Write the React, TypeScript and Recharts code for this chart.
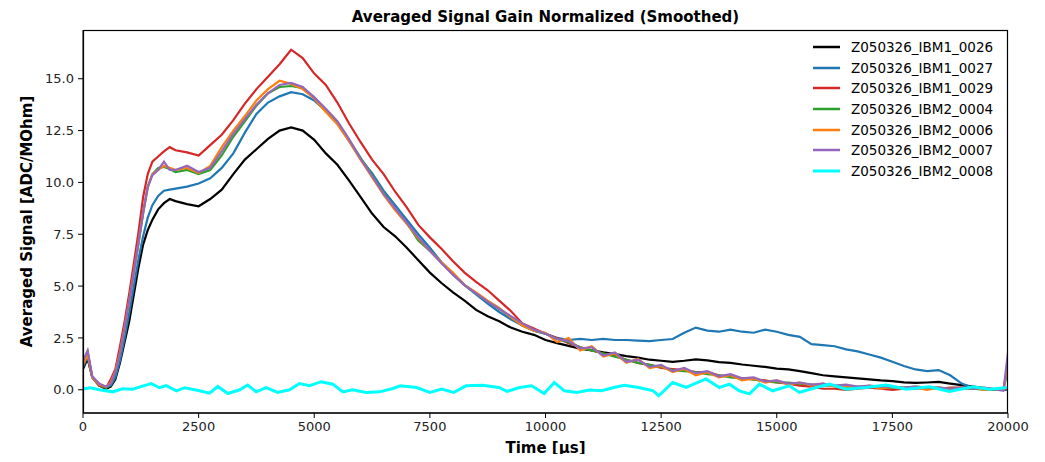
import { LineChart, Line, XAxis, YAxis } from 'recharts'

// time grid (µs) shared by the six signal traces
const TIME = [
  0, 100, 200, 350, 500, 600, 700, 800, 900, 1000, 1100, 1200, 1300, 1400, 1500, 1625, 1750, 1875, 2000,
  2250, 2500, 2750, 3000, 3250, 3500, 3750, 4000, 4250, 4500,
  4750, 5000, 5250, 5500, 5750, 6000, 6250, 6500, 6750, 7000,
  7250, 7500, 7750, 8000, 8250, 8500, 8750, 9000, 9250, 9500,
  9750, 10000, 10250, 10500, 10750, 11000, 11250, 11500, 11750, 12000,
  12250, 12500, 12750, 13000, 13250, 13500, 13750, 14000, 14250, 14500,
  14750, 15000, 15250, 15500, 15750, 16000, 16250, 16500, 16750, 17000,
  17250, 17500, 17750, 18000, 18250, 18500, 18750, 19000, 19250, 19500,
  19750, 19900, 20000,
]

const IBM1_0026 = [
  1.0, 1.5, 0.6, 0.2, 0.05, 0.15, 0.5, 1.3, 2.3, 3.3, 4.6, 5.9, 7.0, 7.7, 8.2, 8.7, 9.0, 9.2, 9.1,
  8.95, 8.85, 9.2, 9.65, 10.4, 11.1, 11.6, 12.1, 12.5, 12.65,
  12.5, 12.05, 11.4, 10.85, 10.1, 9.3, 8.5, 7.85, 7.4, 6.85,
  6.25, 5.65, 5.15, 4.7, 4.3, 3.85, 3.55, 3.3, 3.0, 2.8,
  2.65, 2.4, 2.25, 2.12, 1.98, 1.9, 1.8, 1.72, 1.62, 1.55,
  1.45, 1.4, 1.35, 1.4, 1.47, 1.42, 1.33, 1.3, 1.22, 1.16,
  1.1, 1.02, 0.98, 0.9, 0.8, 0.7, 0.65, 0.6, 0.55, 0.5,
  0.45, 0.42, 0.36, 0.33, 0.35, 0.38, 0.3, 0.22, 0.15, 0.08,
  0.02, 0.0, 0.0,
]

const IBM1_0027 = [
  1.1, 1.6, 0.6, 0.2, 0.1, 0.2, 0.6, 1.4, 2.5, 3.7, 5.0, 6.3, 7.4, 8.3, 8.9, 9.35, 9.6, 9.65, 9.7,
  9.8, 9.95, 10.2, 10.7, 11.4, 12.4, 13.3, 13.85, 14.15, 14.35,
  14.25, 13.95, 13.45, 12.85, 12.0, 11.15, 10.45, 9.6, 8.9, 8.2,
  7.5, 6.85, 6.15, 5.55, 5.05, 4.6, 4.15, 3.75, 3.4, 3.1,
  2.85, 2.7, 2.5, 2.4, 2.45, 2.4, 2.45, 2.4, 2.4, 2.37,
  2.35, 2.4, 2.45, 2.75, 3.0, 2.85, 2.8, 2.9, 2.8, 2.75,
  2.9, 2.8, 2.65, 2.55, 2.2, 2.15, 2.1, 1.95, 1.85, 1.7,
  1.55, 1.35, 1.15, 0.98, 0.9, 0.95, 0.7, 0.3, 0.08, 0.03,
  0.0, 0.0, 0.0,
]

const IBM1_0029 = [
  1.2, 1.8, 0.6, 0.2, 0.1, 0.5, 1.0, 2.1, 3.3, 4.65, 6.1, 7.6, 9.3, 10.4, 11.0, 11.25, 11.5, 11.7, 11.55,
  11.45, 11.3, 11.8, 12.3, 13.0, 13.8, 14.5, 15.1, 15.7, 16.4,
  16.0, 15.25, 14.7, 13.85, 12.85, 11.95, 11.1, 10.4, 9.55, 8.8,
  7.95, 7.35, 6.8, 6.2, 5.65, 5.2, 4.8, 4.3, 3.8, 3.2,
  2.95, 2.7, 2.5, 2.25, 2.05, 1.9, 1.75, 1.65, 1.45, 1.3,
  1.2, 1.05, 1.0, 0.95, 0.85, 0.85, 0.7, 0.65, 0.55, 0.5,
  0.45, 0.35, 0.3, 0.2, 0.15, 0.05, 0.05, 0.0, 0.05, 0.1,
  0.05, 0.0, 0.05, 0.05, 0.1, 0.05, 0.1, 0.1, 0.05, 0.05,
  0.0, 0.0, 0.1,
]

const IBM2_0004 = [
  1.3, 1.8, 0.6, 0.25, 0.1, 0.3, 0.85, 1.75, 2.95, 4.25, 5.65, 7.05, 8.5, 9.75, 10.4, 10.7, 10.75, 10.65, 10.5,
  10.6, 10.4, 10.6, 11.3, 12.2, 12.95, 13.7, 14.3, 14.6, 14.65,
  14.55, 14.1, 13.5, 12.9, 12.05, 11.2, 10.35, 9.5, 8.7, 8.05,
  7.2, 6.7, 6.15, 5.6, 5.05, 4.65, 4.25, 3.9, 3.5, 3.1,
  2.85, 2.7, 2.45, 2.3, 2.05, 1.9, 1.75, 1.6, 1.45, 1.3,
  1.2, 1.1, 0.95, 0.9, 0.85, 0.75, 0.7, 0.6, 0.55, 0.5,
  0.4, 0.35, 0.35, 0.3, 0.25, 0.2, 0.2, 0.15, 0.15, 0.15,
  0.1, 0.1, 0.1, 0.15, 0.1, 0.1, 0.05, 0.05, 0.05, 0.0,
  0.0, 0.0, 1.0,
]

const IBM2_0006 = [
  1.2, 1.7, 0.6, 0.25, 0.15, 0.35, 0.9, 1.8, 3.0, 4.3, 5.7, 7.1, 8.6, 9.8, 10.4, 10.6, 10.8, 10.7, 10.6,
  10.7, 10.45, 10.8, 11.7, 12.5, 13.2, 13.95, 14.5, 14.9, 14.75,
  14.5, 14.05, 13.4, 12.8, 12.0, 11.1, 10.25, 9.4, 8.65, 8.0,
  7.3, 6.7, 6.15, 5.65, 5.05, 4.7, 4.3, 3.95, 3.5, 3.1,
  2.85, 2.75, 2.3, 2.5, 1.9, 2.1, 1.6, 1.75, 1.3, 1.5,
  1.05, 1.15, 0.85, 1.0, 0.7, 0.85, 0.6, 0.7, 0.45, 0.55,
  0.35, 0.45, 0.25, 0.35, 0.2, 0.3, 0.15, 0.2, 0.1, 0.2,
  0.05, 0.15, 0.05, 0.1, 0.0, 0.1, 0.05, 0.05, 0.1, 0.0,
  0.05, 0.0, 1.3,
]

const IBM2_0007 = [
  1.4, 1.9, 0.65, 0.3, 0.15, 0.3, 0.85, 1.75, 3.0, 4.3, 5.7, 7.1, 8.55, 9.8, 10.35, 10.6, 11.0, 10.6, 10.6,
  10.8, 10.5, 10.7, 11.5, 12.35, 13.05, 13.75, 14.3, 14.7, 14.8,
  14.6, 14.1, 13.55, 12.95, 12.1, 11.15, 10.3, 9.45, 8.75, 8.05,
  7.35, 6.7, 6.1, 5.55, 5.05, 4.65, 4.25, 3.9, 3.55, 3.2,
  2.9, 2.7, 2.45, 2.35, 2.0, 2.05, 1.65, 1.8, 1.35, 1.45,
  1.1, 1.2, 0.9, 1.05, 0.8, 0.9, 0.65, 0.75, 0.55, 0.6,
  0.4, 0.45, 0.3, 0.35, 0.25, 0.3, 0.2, 0.25, 0.15, 0.2,
  0.15, 0.15, 0.1, 0.15, 0.1, 0.1, 0.05, 0.1, 0.05, 0.1,
  0.0, -0.05, 1.8,
]

// the empty channel has its own (denser) sampling
const IBM2_0008_T = [
  0, 150, 360, 640, 850, 1080, 1250, 1480, 1650, 1800, 2020, 2200, 2520, 2735, 2915, 3130, 3390, 3560,
  3745, 3960, 4210, 4465, 4680, 4900, 5150, 5400, 5620, 5830, 6120, 6410, 6700, 6860, 7215, 7500,
  7750, 8015, 8280, 8640, 8990, 9170, 9440, 9700, 9970, 10190, 10410, 10680, 10945, 11210, 11480,
  11700, 12020, 12330, 12450, 12750, 13040, 13470, 13760, 13975, 14190, 14410, 14625, 14910, 15270,
  15490, 15850, 16140, 16500, 16930, 17365, 17800, 18300, 18730, 19240, 19600, 20000,
]
const IBM2_0008 = [
  0.03, 0.1, 0.0, -0.1, 0.05, 0.03, 0.15, 0.3, 0.1, 0.2, -0.05, 0.1, -0.05, -0.16, 0.16, -0.18, 0.0, 0.23,
  -0.1, 0.1, -0.13, 0.0, 0.3, 0.2, 0.39, 0.27, -0.1, 0.0, -0.13, -0.1, 0.06, 0.19, 0.11, -0.13,
  0.03, -0.13, 0.19, 0.22, 0.11, -0.08, 0.11, 0.19, -0.18, 0.35, -0.05, -0.13, -0.01, -0.05, 0.11,
  0.22, 0.11, -0.05, -0.29, 0.35, 0.11, 0.52, 0.11, 0.27, -0.05, -0.2, 0.27, -0.05, 0.19,
  -0.13, 0.11, 0.27, 0.03, 0.11, 0.23, 0.03, 0.14, -0.08, 0.14, 0.03, 0.11,
]

const NAMES = [
  'Z050326_IBM1_0026', 'Z050326_IBM1_0027', 'Z050326_IBM1_0029', 'Z050326_IBM2_0004',
  'Z050326_IBM2_0006', 'Z050326_IBM2_0007', 'Z050326_IBM2_0008',
]
const COLORS = ['#000000', '#1f77b4', '#d62728', '#2ca02c', '#ff7f0e', '#9467bd', '#00ffff']
const SIGNALS = [IBM1_0026, IBM1_0027, IBM1_0029, IBM2_0004, IBM2_0006, IBM2_0007]

const X_TICKS = [0, 2500, 5000, 7500, 10000, 12500, 15000, 17500, 20000]
const Y_TICKS = [0, 2.5, 5, 7.5, 10, 12.5, 15]

const FONT = '"DejaVu Sans", sans-serif'
const X_DOMAIN: [number, number] = [0, 20000]
const Y_DOMAIN: [number, number] = [-1.12, 17.35]

const rows = TIME.map((t, i) => {
  const r: Record<string, number> = { t }
  SIGNALS.forEach((s, k) => { r['s' + k] = s[i] })
  return r
})
const emptyRows = IBM2_0008_T.map((t, i) => ({ t, v: IBM2_0008[i] }))

const tickStyle = { fill: '#222', fontSize: 13, fontFamily: FONT }

export default function App() {
  return (
    <div style={{ position: 'relative', width: 1045, height: 462, margin: -8, background: '#fff', fontFamily: FONT }}>
      <div style={{
        position: 'absolute', left: 83, top: 8, width: 925, textAlign: 'center',
        fontWeight: 'bold', fontSize: 15, lineHeight: '18px', color: '#000',
      }}>
        Averaged Signal Gain Normalized (Smoothed)
      </div>

      <LineChart
        width={1045} height={462} data={rows}
        margin={{ top: 30, right: 37, bottom: 4, left: 23 }}
        style={{ fontFamily: FONT }}
      >
        <XAxis
          dataKey="t" type="number" domain={X_DOMAIN} ticks={X_TICKS} allowDataOverflow
          tick={tickStyle} tickSize={5} tickMargin={4} height={45}
          stroke="#000" interval={0}
          label={{ value: 'Time [µs]', position: 'insideBottom', offset: 5, fill: '#000', fontSize: 15, fontWeight: 'bold' }}
        />
        <YAxis
          type="number" domain={Y_DOMAIN} ticks={Y_TICKS} allowDataOverflow
          tick={tickStyle} tickSize={5} tickMargin={4} width={60} stroke="#000" interval={0}
          tickFormatter={v => Number(v).toFixed(1)}
          label={{
            value: 'Averaged Signal [ADC/MOhm]', angle: -90, position: 'insideLeft', offset: 4,
            fill: '#000', fontSize: 15, fontWeight: 'bold', style: { textAnchor: 'middle' },
          }}
        />

        {SIGNALS.map((_, k) => (
          <Line
            key={k} dataKey={'s' + k} name={NAMES[k]} type="linear"
            stroke={COLORS[k]} strokeWidth={2.2} dot={false} activeDot={false}
            isAnimationActive={false}
          />
        ))}
        <Line
          data={emptyRows} dataKey="v" name={NAMES[6]} type="linear"
          stroke={COLORS[6]} strokeWidth={3} dot={false} activeDot={false}
          isAnimationActive={false}
        />
      </LineChart>

      {/* axes frame (top and right spines) */}
      <svg width={1045} height={462} style={{ position: 'absolute', left: 0, top: 0, pointerEvents: 'none', zIndex: 5 }}>
        <rect x={83.5} y={30.5} width={924} height={382.5} fill="none" stroke="#000" strokeWidth={1.2} />
      </svg>

      <div style={{ position: 'absolute', left: 810, top: 37, zIndex: 6 }}>
        {NAMES.map((n, k) => (
          <div key={n} style={{ display: 'flex', alignItems: 'center', height: 20.6 }}>
            <svg width={30} height={6} style={{ marginLeft: 3 }}>
              <line x1={0} y1={3} x2={27} y2={3} stroke={COLORS[k]} strokeWidth={k === 6 ? 3 : 2.5} />
            </svg>
            <span style={{ marginLeft: 8, fontSize: 13.5, color: '#000', whiteSpace: 'nowrap' }}>{n}</span>
          </div>
        ))}
      </div>
    </div>
  )
}
